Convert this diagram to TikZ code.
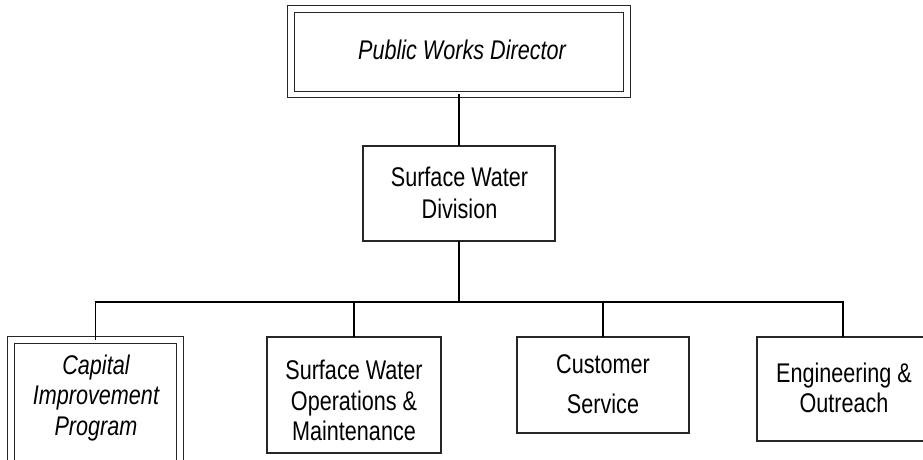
\documentclass[tikz,border=0pt]{standalone}
\usepackage{fontspec}
\setmainfont{Liberation Sans}[FakeStretch=0.8]
\begin{document}
\begin{tikzpicture}[x=1pt,y=-1pt,
  box/.style={draw=black!85,line width=1.1pt,inner sep=0pt,outer sep=0pt,rectangle},
  dbox/.style={draw=black!85,double=white,double distance=5.5pt,line width=1.2pt,inner sep=0pt,outer sep=0pt,rectangle},
  txt/.style={align=center,inner sep=0pt,font=\fontsize{27}{30.5}\selectfont},
  itxt/.style={txt,font=\fontsize{27}{30.5}\selectfont\itshape},
  conn/.style={draw=black,line width=1.3pt}]
\clip (0,0) rectangle (923,459);
% boxes
\node[dbox,minimum width=335.8pt,minimum height=85.7pt] (pwd) at (459,51.6) {};
\node[itxt] (pwdt) at (462,50.2) {Public Works Director};
\node[box,minimum width=192pt,minimum height=95pt] (swd) at (459,193.5) {};
\node[txt,font=\fontsize{27}{32}\selectfont] (swdt) at (459.5,193.2) {Surface Water\\Division};
\node[dbox,minimum width=169.2pt,minimum height=126pt] (cip) at (95.4,402.8) {};
\node[itxt] (cipt) at (96,398) {Capital\\Improvement\\Program};
\node[box,minimum width=174pt,minimum height=116pt] (swom) at (354,395) {};
\node[txt] (swomt) at (354,400.7) {Surface Water\\Operations \&\\Maintenance};
\node[box,minimum width=172pt,minimum height=96pt] (cs) at (603,385) {};
\node[txt] (cst) at (603,384.2) {Customer\\[9.5pt]Service};
\node[box,minimum width=172pt,minimum height=104pt] (eo) at (843,389) {};
\node[txt] (eot) at (844,387.7) {Engineering \&\\Outreach};
% connectors
\coordinate (bar) at (459,302);
\draw[conn] (pwd.south) -- (swd.north);
\draw[draw=black,line width=2.2pt] (swd.south) -- (bar);
\draw[draw=black,line width=1.7pt] (cip.north) |- (bar) -| (eo.north);
\draw[conn] (swom.north) -- (swom.north |- bar);
\draw[conn] (cs.north) -- (cs.north |- bar);
\end{tikzpicture}
\end{document}
